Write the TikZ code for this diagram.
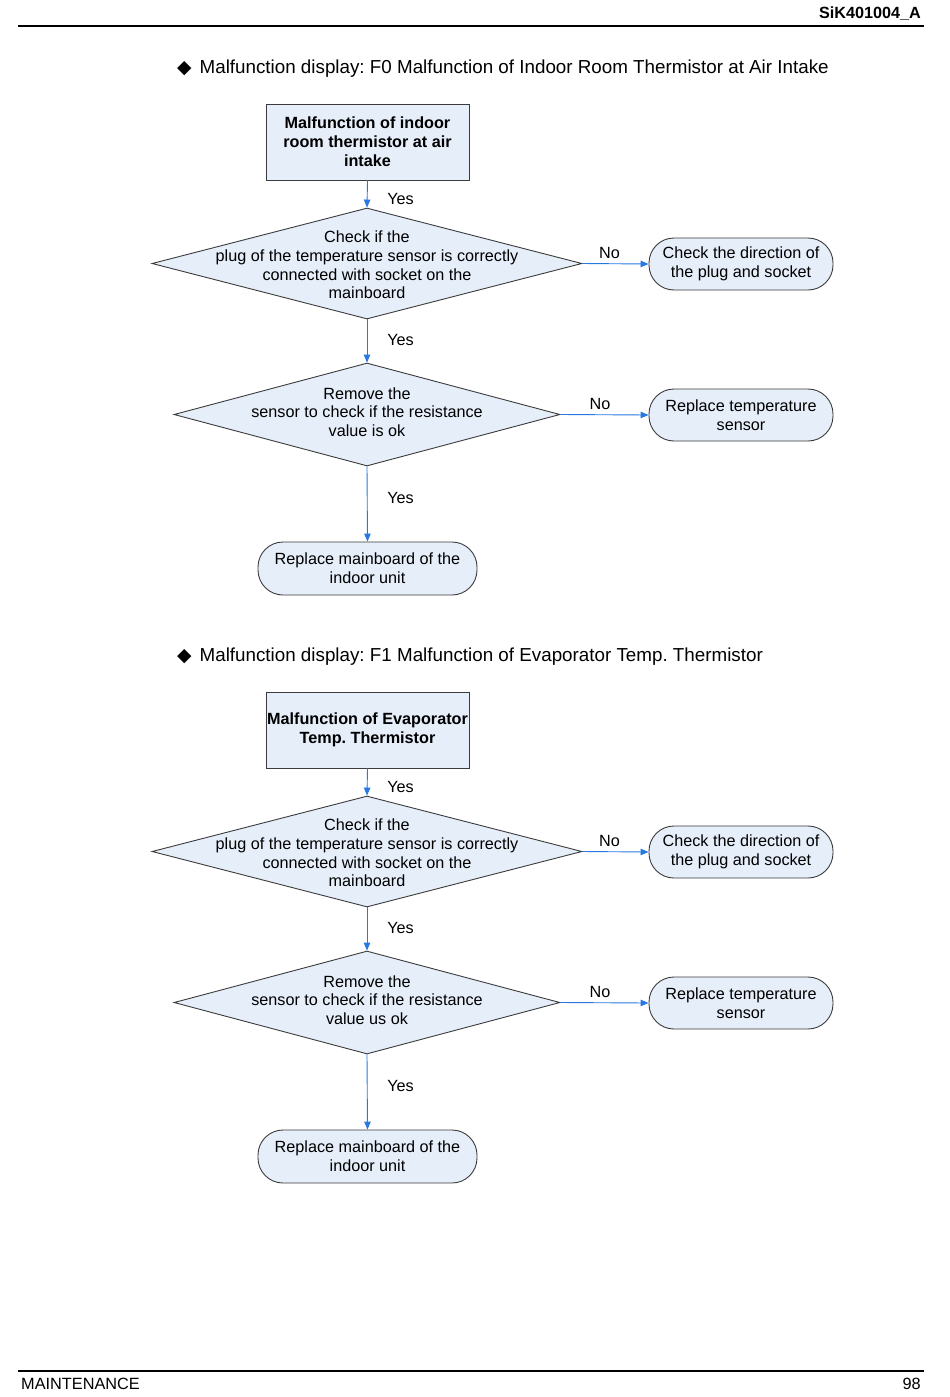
\documentclass[tikz,border=0pt]{standalone}
\usepackage{fontspec}
\setmainfont{Liberation Sans}
\newfontfamily\symfont{DejaVu Sans}
\usetikzlibrary{shapes.geometric,arrows.meta}
\frenchspacing
\definecolor{boxfill}{RGB}{230,238,250}
\definecolor{edgegray}{RGB}{60,60,60}
\definecolor{arrowblue}{RGB}{40,120,225}
\tikzset{
  txt/.style={font=\fontsize{16.2}{18.7}\selectfont, inner sep=0pt},
  startbox/.style={draw=edgegray, line width=0.9pt, fill=boxfill, minimum width=203pt, minimum height=76pt, align=center, font=\fontsize{16.2}{19}\selectfont\bfseries, inner sep=1pt},
  dia/.style={draw=edgegray, line width=0.9pt, fill=boxfill, diamond, inner sep=0pt},
  term/.style={draw=edgegray, line width=0.9pt, fill=boxfill, rectangle, rounded corners=25pt, align=center, font=\fontsize{16.2}{18.7}\selectfont, inner sep=0pt},
  flow/.style={draw=arrowblue, line width=0.9pt, -{Triangle[length=8pt,width=6.5pt]}},
  lbl/.style={font=\fontsize{16.2}{18}\selectfont, inner sep=0pt},
  title/.style={font=\fontsize{18.8}{21}\selectfont, inner sep=0pt, anchor=west},
}
\begin{document}
\begin{tikzpicture}[x=1pt,y=-1pt]
\useasboundingbox[fill=white] (0,0) rectangle (950,1397);
% header / footer
\node[font=\fontsize{16.2}{18}\selectfont\bfseries, inner sep=0pt, anchor=east] (hdr) at (921,14) {SiK401004\_A};
\draw[line width=1.2pt] (18,26) coordinate (hl) -- (924,26) coordinate (hr);
\draw[line width=1.8pt] (18,1371) coordinate (fl) -- (924,1371) coordinate (fr);
\node[font=\fontsize{16.3}{18}\selectfont, inner sep=0pt, anchor=west] (ftl) at (21,1384) {MAINTENANCE};
\node[font=\fontsize{16.3}{18}\selectfont, inner sep=0pt, anchor=east] (ftr) at (921,1384) {98};

\foreach \oy/\sec/\ttl/\boxtxt/\dtwo in {
  0/A/{Malfunction display: F0 Malfunction of Indoor Room Thermistor at Air Intake}/{Malfunction of indoor\\room thermistor at air\\intake}/{value is ok},
  588/B/{Malfunction display: F1 Malfunction of Evaporator Temp. Thermistor}/{Malfunction of Evaporator\\Temp. Thermistor}/{value us ok}} {
  \node[title] (t\sec) at (177,69+\oy) {{\symfont ◆}\hspace{8pt}\ttl};
  \node[startbox] (s\sec) at (367.5,142+\oy) {\boxtxt};
  \node[dia, minimum width=430pt, minimum height=111pt] (da\sec) at (367,263.5+\oy) {};
  \node[txt, align=center] (dat\sec) at (367,265+\oy) {Check if the\\plug of the temperature sensor is correctly\\connected with socket on the\\mainboard};
  \node[term, minimum width=184pt, minimum height=52pt] (ea\sec) at (741,264+\oy) {Check the direction of\\the plug and socket};
  \node[dia, minimum width=386pt, minimum height=103pt] (db\sec) at (367,414.5+\oy) {};
  \node[txt, align=center] (dbt\sec) at (367,412+\oy) {Remove the\\sensor to check if the resistance\\\dtwo};
  \node[term, minimum width=184pt, minimum height=52pt] (eb\sec) at (741,415+\oy) {Replace temperature\\sensor};
  \node[term, minimum width=219pt, minimum height=53pt] (ec\sec) at (367.5,568.5+\oy) {Replace mainboard of the\\indoor unit};
  \draw[flow] (s\sec.south) -- (da\sec.north);
  \draw[flow] (da\sec.south) -- (db\sec.north);
  \draw[flow] (db\sec.south) -- (ec\sec.north);
  \draw[flow] (da\sec.east) -- (ea\sec.west);
  \draw[flow] (db\sec.east) -- (eb\sec.west);
  \node[lbl] (y1\sec) at (400.5,199+\oy) {Yes};
  \node[lbl] (y2\sec) at (400.5,340+\oy) {Yes};
  \node[lbl] (y3\sec) at (400.5,498+\oy) {Yes};
  \node[lbl] (n1\sec) at (609.5,253+\oy) {No};
  \node[lbl] (n2\sec) at (600,404+\oy) {No};
}
\end{tikzpicture}
\end{document}
